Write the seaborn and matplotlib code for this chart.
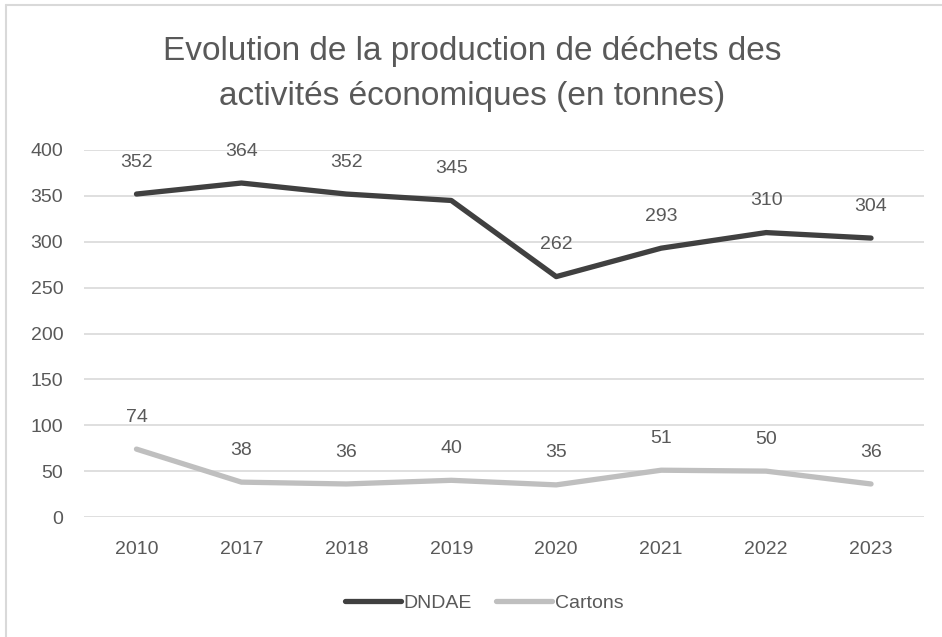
import matplotlib
matplotlib.use("Agg")
import matplotlib.pyplot as plt
from matplotlib.lines import Line2D
import seaborn as sns
import pandas as pd

years = ["2010", "2017", "2018", "2019", "2020", "2021", "2022", "2023"]
dndae = [352, 364, 352, 345, 262, 293, 310, 304]
cartons = [74, 38, 36, 40, 35, 51, 50, 36]
series_names = ["DNDAE", "Cartons"]
title = "Evolution de la production de déchets des\nactivités économiques (en tonnes)"

df = pd.DataFrame({
    "year": years * 2,
    "value": dndae + cartons,
    "series": [series_names[0]] * len(years) + [series_names[1]] * len(years),
})

sns.set_theme(style="white")
plt.rcParams["font.family"] = ["Liberation Sans", "DejaVu Sans"]

W, H = 942, 637
fig = plt.figure(figsize=(W / 100, H / 100), dpi=100)
ax = fig.add_axes([84 / W, 1 - 517 / H, (923.5 - 84) / W, (517 - 150) / H])

palette = {"DNDAE": "#404040", "Cartons": "#bfbfbf"}
sns.lineplot(data=df, x="year", y="value", hue="series", palette=palette,
             sort=False, linewidth=3.8, ax=ax, legend=False,
             solid_capstyle="round")

ax.set_xlim(-0.5, len(years) - 0.5)
ax.set_ylim(0, 400)
ax.set_yticks(range(0, 401, 50))
ax.grid(axis="y", color="#d9d9d9", linewidth=1.2)
ax.set_axisbelow(True)
for s in ax.spines.values():
    s.set_visible(False)
ax.set_xlabel("")
ax.set_ylabel("")
ax.tick_params(axis="both", length=0, labelsize=14, labelcolor="#595959")
ax.tick_params(axis="y", pad=15)
ax.tick_params(axis="x", pad=17)

for vals in (dndae, cartons):
    for i, v in enumerate(vals):
        ax.annotate(str(v), (i, v), xytext=(0, 23), textcoords="offset points",
                    ha="center", va="center", fontsize=14, color="#595959")

fig.text(472 / W, 1 - 74 / H, title, ha="center", va="center",
         fontsize=24, color="#595959", linespacing=1.55)

handles = [Line2D([], [], color=palette[n], linewidth=3.8, solid_capstyle="round")
           for n in series_names]
fig.legend(handles, series_names, loc="center", bbox_to_anchor=(484 / W, 1 - 603 / H),
           ncol=2, frameon=False, fontsize=14, labelcolor="#595959",
           handlelength=2.9, handletextpad=0.15, columnspacing=1.2)

fig.add_artist(Line2D([6 / W, 6 / W], [0, 1 - 5 / H], transform=fig.transFigure,
                      color="#d9d9d9", linewidth=1.5))
fig.add_artist(Line2D([6 / W, 1], [1 - 5 / H, 1 - 5 / H], transform=fig.transFigure,
                      color="#d9d9d9", linewidth=1.5))

fig.savefig("out.png", dpi=100)
